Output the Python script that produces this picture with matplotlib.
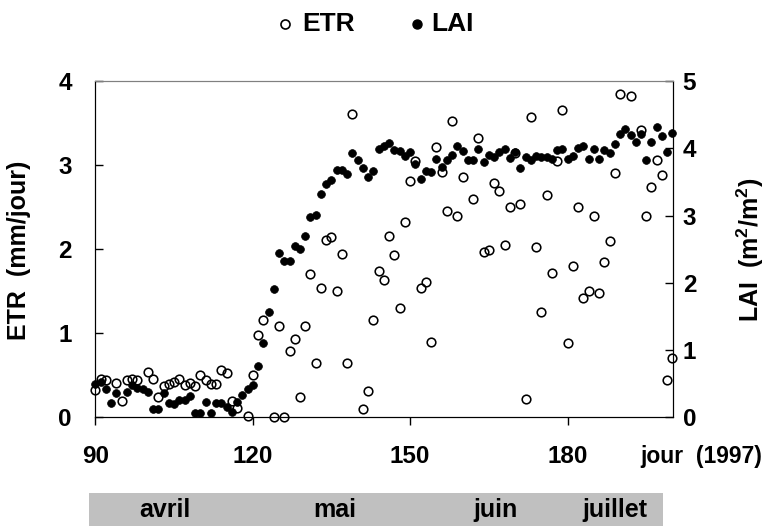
import matplotlib
matplotlib.use("Agg")
import matplotlib.pyplot as plt
from matplotlib.lines import Line2D
from matplotlib.patches import Rectangle

plt.rcParams['font.family'] = ['Liberation Sans', 'DejaVu Sans']
plt.rcParams['font.weight'] = 'bold'
plt.rcParams['mathtext.fontset'] = 'custom'
plt.rcParams['mathtext.rm'] = 'Liberation Sans:bold'
plt.rcParams['mathtext.bf'] = 'Liberation Sans:bold'

# ---- data ----
etr_days = [90, 91, 92, 94, 95, 96, 97, 98, 100, 101, 102, 103, 104, 105, 106, 107,
            108, 109, 110, 111, 112, 113, 114, 115, 116, 117, 119, 120, 121, 122,
            124, 125, 126, 127, 128, 129, 130, 131, 132, 133, 134, 135, 136, 137,
            138, 139, 141, 142, 143, 144, 145, 146, 147, 148, 149, 150, 151, 152,
            153, 154, 155, 156, 157, 158, 159, 160, 162, 163, 164, 165, 166, 167,
            168, 169, 170, 171, 172, 173, 174, 175, 176, 177, 178, 179, 180, 181,
            182, 183, 184, 185, 186, 187, 188, 189, 190, 192, 194, 195, 196, 197,
            198, 199, 200]
etr = [0.33, 0.46, 0.44, 0.41, 0.19, 0.44, 0.45, 0.44, 0.54, 0.46, 0.24, 0.37, 0.40,
       0.42, 0.45, 0.38, 0.41, 0.37, 0.50, 0.44, 0.40, 0.40, 0.56, 0.53, 0.19, 0.11,
       0.01, 0.50, 0.98, 1.16, 0.00, 1.08, 0.00, 0.79, 0.93, 0.24, 1.08, 1.71, 0.65,
       1.54, 2.11, 2.14, 1.50, 1.94, 0.64, 3.61, 0.10, 0.31, 1.16, 1.74, 1.63, 2.16,
       1.93, 1.30, 2.32, 2.81, 3.05, 1.54, 1.61, 0.89, 3.21, 2.92, 2.45, 3.53, 2.39,
       2.86, 2.60, 3.32, 1.97, 1.99, 2.79, 2.69, 2.05, 2.50, 3.14, 2.54, 0.22, 3.57,
       2.03, 1.25, 2.64, 1.72, 3.05, 3.65, 0.88, 1.80, 2.50, 1.42, 1.50, 2.39, 1.48,
       1.85, 2.10, 2.90, 3.84, 3.82, 3.42, 2.39, 2.74, 3.06, 2.88, 0.44, 0.71]

lai_days = [90, 91, 92, 93, 94, 96, 97, 98, 99, 100, 101, 102, 103, 104, 105, 106,
            107, 108, 109, 110, 111, 112, 113, 114, 115, 116, 117, 118, 119, 120,
            121, 122, 123, 124, 125, 126, 127, 128, 129, 130, 131, 132, 133, 134,
            135, 136, 137, 138, 139, 140, 141, 142, 143, 144, 145, 146, 147, 148,
            149, 150, 151, 152, 153, 154, 155, 156, 157, 158, 159, 160, 161, 162,
            163, 164, 165, 166, 167, 168, 169, 170, 171, 172, 173, 174, 175, 176,
            177, 178, 179, 180, 181, 182, 183, 184, 185, 186, 187, 188, 189, 190,
            191, 192, 193, 194, 195, 196, 197, 198, 199, 200]
lai = [0.50, 0.53, 0.42, 0.21, 0.36, 0.38, 0.48, 0.43, 0.42, 0.38, 0.13, 0.13, 0.36,
       0.22, 0.20, 0.25, 0.25, 0.32, 0.07, 0.07, 0.23, 0.07, 0.21, 0.21, 0.16, 0.08,
       0.23, 0.33, 0.42, 0.48, 0.77, 1.10, 1.56, 1.91, 2.44, 2.33, 2.32, 2.55, 2.50,
       2.69, 2.98, 3.01, 3.32, 3.47, 3.53, 3.68, 3.68, 3.61, 3.93, 3.83, 3.71, 3.58,
       3.66, 3.99, 4.03, 4.08, 3.98, 3.96, 3.88, 3.94, 3.77, 3.54, 3.66, 3.64, 3.84,
       3.72, 3.83, 3.90, 4.04, 3.96, 3.83, 3.83, 3.99, 3.80, 3.90, 3.87, 3.94, 3.99,
       3.85, 3.94, 3.71, 3.87, 3.83, 3.89, 3.87, 3.87, 3.84, 3.98, 3.99, 3.84, 3.88,
       4.01, 4.04, 3.84, 3.99, 3.84, 3.98, 3.93, 4.07, 4.21, 4.28, 4.20, 4.10, 4.21,
       3.83, 4.09, 4.32, 4.18, 3.94, 4.23]

x_ticks = [90, 120, 150, 180]
etr_ticks = [0, 1, 2, 3, 4]
lai_ticks = [0, 1, 2, 3, 4, 5]
months = ['avril', 'mai', 'juin', 'juillet']
series_names = ['ETR', 'LAI']

W, H = 770, 526
fig = plt.figure(figsize=(W / 100, H / 100), dpi=100)
ax = fig.add_axes([95.4 / W, 1 - 417.3 / H, (673 - 95.4) / W, (417.3 - 81) / H])
ax2 = ax.twinx()

ax.plot(etr_days, etr, linestyle='none', marker='o', markersize=6.2,
        markerfacecolor='none', markeredgecolor='black', markeredgewidth=1.15,
        clip_on=False, zorder=3)
ax2.plot(lai_days, lai, linestyle='none', marker='o', markersize=5.6,
         markerfacecolor='black', markeredgecolor='black', markeredgewidth=0.5,
         clip_on=False, zorder=4)

ax.set_xlim(90, 200.1)
ax.set_ylim(0, 4)
ax2.set_ylim(0, 5)
ax.set_xticks(x_ticks)
ax.set_yticks(etr_ticks)
ax2.set_yticks(lai_ticks)

ax.tick_params(axis='x', direction='out', length=6, width=1, pad=14, labelsize=17.5)
ax.tick_params(axis='y', direction='in', length=6, width=1, pad=17, labelsize=17.5)
ax2.tick_params(axis='y', direction='in', length=6, width=1, pad=7, labelsize=17.5)
for a in (ax, ax2):
    for lab in a.get_xticklabels() + a.get_yticklabels():
        lab.set_fontweight('bold')

for s in ['left', 'bottom', 'right']:
    ax.spines[s].set_color('black')
    ax2.spines[s].set_color('black')
ax.spines['top'].set_color('#808080')
ax2.spines['top'].set_color('#808080')

fig.text(19 / W, 1 - 250 / H, 'ETR  (mm/jour)', fontsize=18, fontweight='bold',
         rotation=90, ha='center', va='center')
fig.text(750 / W, 1 - 250 / H, 'LAI  (m$^\\mathbf{2}$/m$^\\mathbf{2}$)', fontsize=18,
         fontweight='bold', rotation=90, ha='center', va='center')

fig.text(640 / W, 1 - 457 / H, 'jour  (1997)', fontsize=16.5, fontweight='bold',
         ha='left', va='center')

# legend (drawn by hand to match spacing)
ly = 1 - 24 / H
fig.add_artist(Line2D([285 / W], [ly], transform=fig.transFigure, linestyle='none',
                      marker='o', markersize=6.5, markerfacecolor='none',
                      markeredgecolor='black', markeredgewidth=1.2))
fig.add_artist(Line2D([417 / W], [ly], transform=fig.transFigure, linestyle='none',
                      marker='o', markersize=6.5, markerfacecolor='black',
                      markeredgecolor='black'))
fig.text(302 / W, ly, series_names[0], fontsize=19, fontweight='bold',
         ha='left', va='center')
fig.text(431 / W, ly, series_names[1], fontsize=19, fontweight='bold',
         ha='left', va='center')

# month band
fig.patches.append(Rectangle((88.5 / W, 0), (663 - 88.5) / W, (H - 493) / H,
                             transform=fig.transFigure, facecolor='#c0c0c0',
                             edgecolor='none', zorder=0))
month_x = [165, 335, 495, 615]
for m, xm in zip(months, month_x):
    fig.text(xm / W, 1 - 510 / H, m, fontsize=18, fontweight='bold',
             ha='center', va='center')

fig.savefig('out.png', dpi=100)
